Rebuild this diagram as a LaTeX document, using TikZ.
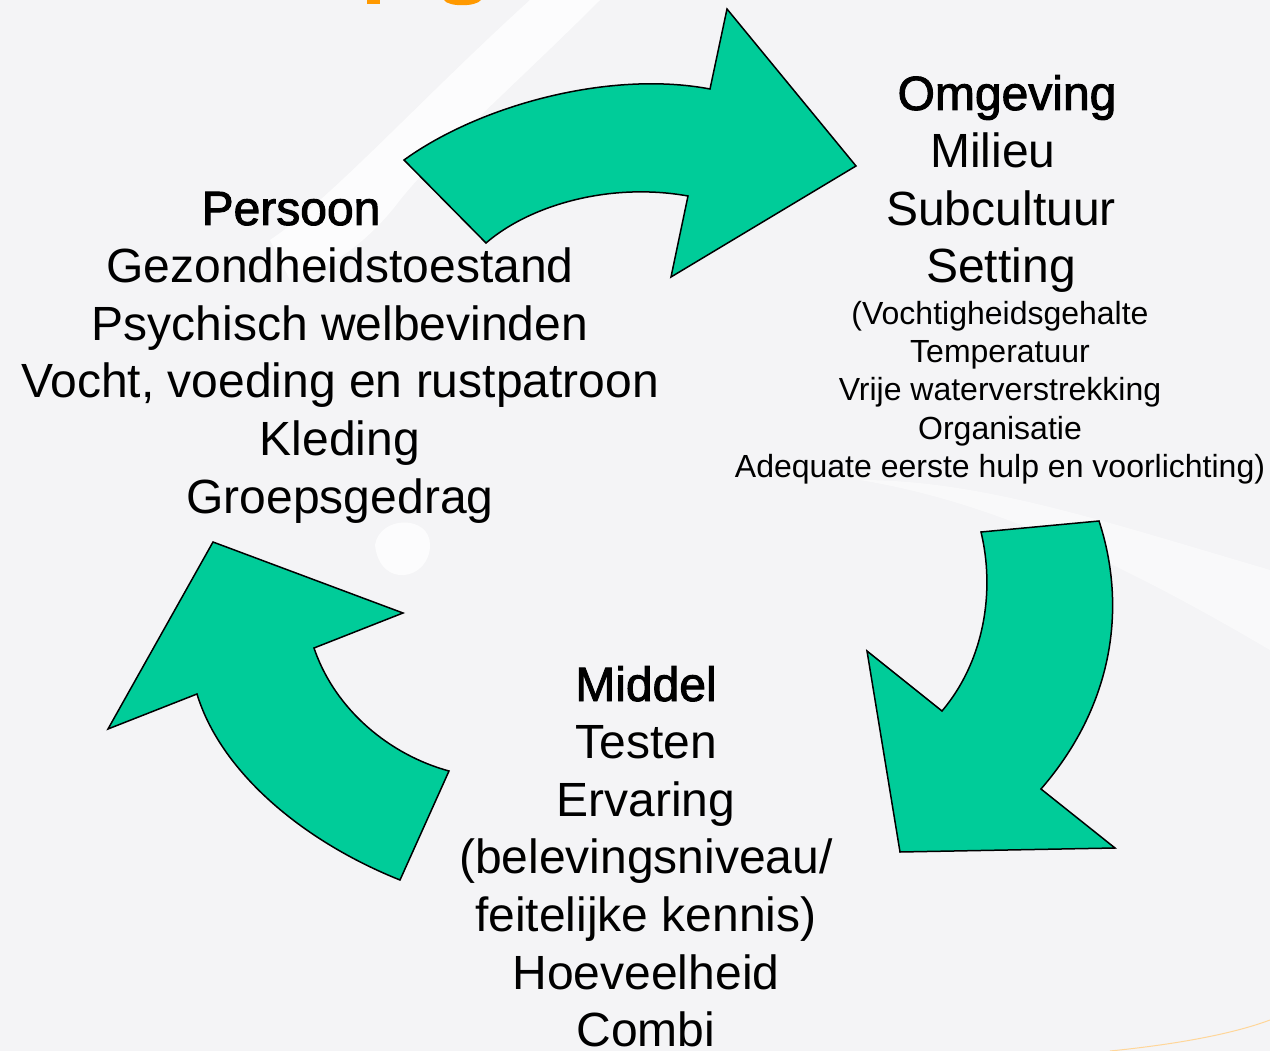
\documentclass[tikz,border=0pt]{standalone}
\usepackage{fontspec}
\setmainfont{Liberation Sans}
\newfontfamily\headfont{Liberation Sans}[FakeBold=2]
\usepackage{tikz}

\definecolor{arrowgreen}{RGB}{0,204,153}
\definecolor{bggray}{RGB}{244,244,246}
\definecolor{titleorange}{RGB}{255,153,0}

\tikzset{
  bigtxt/.style={font=\fontsize{48}{57.6}\selectfont, anchor=base, inner sep=0pt},
  headtxt/.style={font=\fontsize{48}{57.6}\selectfont\headfont, anchor=base, inner sep=0pt},
  smalltxt/.style={font=\fontsize{32}{38.4}\selectfont, anchor=base, inner sep=0pt},
  cyclearrow/.style={fill=arrowgreen, draw=black, line width=1.5pt, line join=miter}
}

\begin{document}
\begin{tikzpicture}[x=1pt, y=-1pt]

% Background
\fill[bggray] (0,0) rectangle (1270,1051);
\useasboundingbox (0,0) rectangle (1270,1051);

% faint white swooshes
\fill[white, opacity=0.8] (530,0) -- (600,0) .. controls (520,80) and (440,150) .. (400,200)
    .. controls (370,240) and (330,270) .. (290,280) -- (270,240) .. controls (330,200) and (420,100) .. (530,0) -- cycle;
\fill[white, opacity=0.5] (860,480) .. controls (980,500) and (1100,550) .. (1270,650)
    -- (1270,570) .. controls (1100,520) and (980,480) .. (860,480) -- cycle;
\fill[white, opacity=0.8] (375,545) .. controls (380,515) and (430,515) .. (430,545)
    .. controls (430,580) and (380,590) .. (375,545) -- cycle;
\draw[titleorange!40, line width=1pt] (1110,1051) .. controls (1170,1045) and (1230,1035) .. (1270,1020);

% Title remains (cut off at the top)
\fill[titleorange] (367,0) rectangle (380,4);
\fill[titleorange] (444,0) .. controls (448,7) and (476,7) .. (481,0) -- cycle;

% Cycle arrows
\draw[cyclearrow] (404,160) .. controls (480,105) and (610,70) .. (710,89) -- (727,9) -- (856,166)
    -- (671,277) -- (688,196) .. controls (610,182) and (530,205) .. (486,243) -- cycle;
\draw[cyclearrow] (981,532) -- (1099,521) .. controls (1125,600) and (1118,700) .. (1041,789)
    -- (1115,848) -- (900,852) -- (867,651) -- (942,711) .. controls (985,660) and (995,590) .. (981,532) -- cycle;
\draw[cyclearrow] (449,771) -- (400,880) .. controls (300,840) and (220,770) .. (197,694)
    -- (108,729) -- (213,542) -- (403,613) -- (314,648) .. controls (335,710) and (390,755) .. (449,771) -- cycle;

% Persoon
\node[headtxt] (persoon) at (291,225) {Persoon};
\foreach \txt [count=\i] in {Gezondheidstoestand, Psychisch welbevinden, {Vocht, voeding en rustpatroon}, Kleding, Groepsgedrag}
    \node[bigtxt] (persoon\i) at (340,225+57.6*\i) {\txt};

% Omgeving
\node[headtxt] (omgeving) at (1007,110) {Omgeving};
\node[bigtxt] (omgeving1) at (993,167.6) {Milieu};
\node[bigtxt] (omgeving2) at (1001,225.2) {Subcultuur};
\node[bigtxt] (omgeving3) at (1001,282.8) {Setting};
\foreach \txt [count=\i] in {{(Vochtigheidsgehalte}, Temperatuur, Vrije waterverstrekking, Organisatie, {Adequate eerste hulp en voorlichting)}}
    \node[smalltxt] (setting\i) at (1000,285.6+38.4*\i) {\txt};

% Middel
\node[headtxt] (middel) at (646,701) {Middel};
\foreach \txt [count=\i] in {Testen, Ervaring, {(belevingsniveau/}, {feitelijke kennis)}, Hoeveelheid, Combi}
    \node[bigtxt] (middel\i) at (646,701+57.6*\i) {\txt};

\end{tikzpicture}
\end{document}
